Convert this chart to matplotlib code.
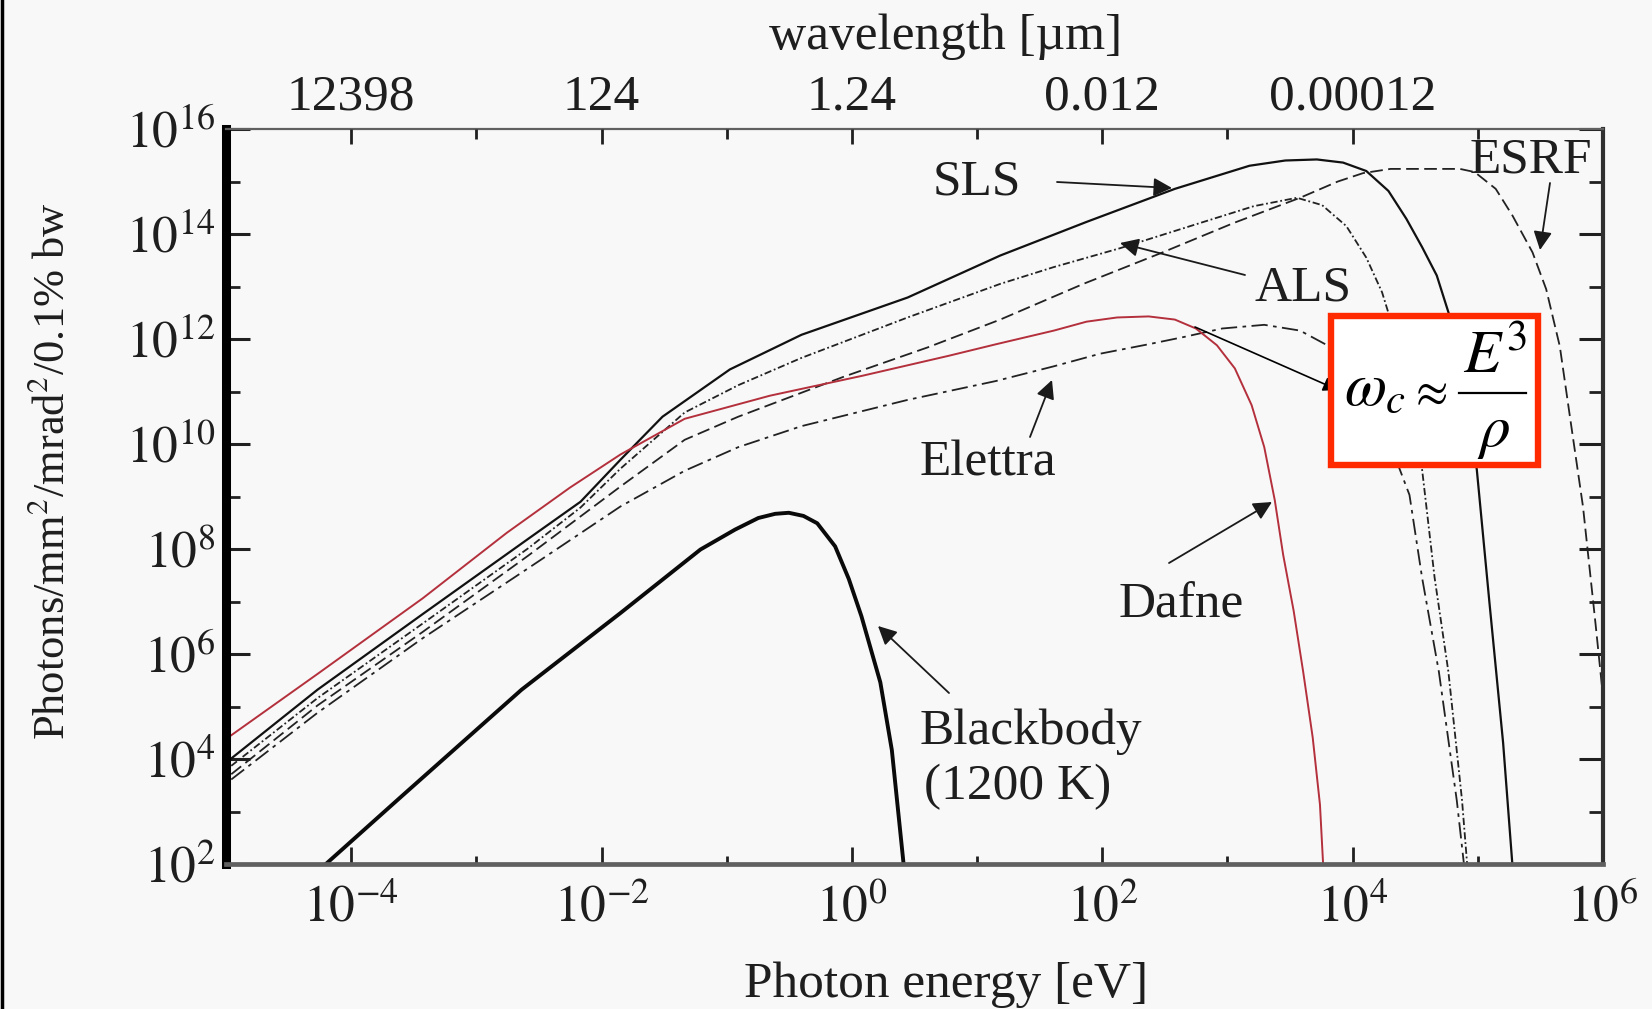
"""Synchrotron brightness vs photon energy for several light sources."""
import numpy as np
import matplotlib
matplotlib.use('Agg')
import matplotlib.pyplot as plt
from matplotlib.patches import Rectangle
from matplotlib.lines import Line2D
from matplotlib.ticker import FixedLocator, NullFormatter

plt.rcParams['font.family'] = ['Liberation Serif', 'DejaVu Serif']
plt.rcParams['mathtext.fontset'] = 'stix'

# log10(photon energy [eV]) and log10(brightness)
sls_logE = [-4.958, -4.269, -3.429, -2.588, -2.168, -1.849, -1.513, -0.975,
            -0.403, 0.445, 1.185, 1.874, 2.580, 3.176, 3.462, 3.714, 3.924,
            4.109, 4.286, 4.429, 4.555, 4.672, 4.773, 4.891, 4.992, 5.092,
            5.202, 5.277]
sls_logF = [4.01, 5.32, 6.76, 8.19, 8.90, 9.70, 10.52, 11.42, 12.08, 12.79,
            13.59, 14.23, 14.86, 15.30, 15.40, 15.42, 15.36, 15.20, 14.82,
            14.29, 13.75, 13.21, 12.45, 11.04, 9.51, 7.00, 4.31, 1.96]

als_logE = [-4.958, -4.269, -3.429, -2.588, -2.168, -1.849, -1.336, -0.908,
            -0.403, 0.445, 1.185, 1.613, 2.143, 2.782, 3.210, 3.555, 3.756,
            3.950, 4.109, 4.235, 4.345, 4.454, 4.555, 4.655, 4.765, 4.874,
            4.916]
als_logF = [3.87, 5.16, 6.58, 8.01, 8.79, 9.53, 10.60, 11.12, 11.64, 12.41,
            13.05, 13.37, 13.73, 14.21, 14.53, 14.69, 14.55, 14.15, 13.55,
            12.89, 12.04, 10.84, 9.51, 7.45, 5.66, 3.21, 1.96]

esrf_logE = [-4.958, -4.269, -3.429, -2.588, -1.849, -1.336, -0.908, -0.067,
             0.605, 1.185, 1.849, 2.462, 3.050, 3.580, 3.882, 4.084, 4.303,
             4.857, 4.975, 5.143, 5.277, 5.437, 5.546, 5.655, 5.731, 5.840,
             5.941, 6.025]
esrf_logF = [3.71, 5.02, 6.42, 7.87, 9.19, 10.08, 10.52, 11.28, 11.84, 12.37,
             13.05, 13.63, 14.21, 14.69, 15.00, 15.16, 15.24, 15.24, 15.18,
             14.86, 14.35, 13.65, 12.95, 11.86, 10.60, 8.81, 6.56, 4.61]

elettra_logE = [-4.958, -4.269, -3.429, -2.588, -1.849, -1.336, -0.908,
                -0.403, 0.445, 1.151, 1.613, 1.983, 2.370, 2.655, 2.958,
                3.294, 3.580, 3.782, 4.050, 4.261, 4.454, 4.555, 4.689, 4.832,
                4.891]
elettra_logF = [3.61, 4.88, 6.30, 7.63, 8.81, 9.49, 9.94, 10.34, 10.84, 11.20,
                11.48, 11.72, 11.90, 12.04, 12.20, 12.27, 12.16, 11.90, 11.14,
                10.24, 9.03, 7.45, 5.66, 3.21, 1.96]

dafne_logE = [-4.983, -4.269, -3.429, -2.756, -2.252, -1.849, -1.336, -0.655,
              0.084, 0.773, 1.151, 1.613, 1.874, 2.118, 2.370, 2.580, 2.748,
              2.916, 3.059, 3.193, 3.294, 3.378, 3.445, 3.529, 3.605, 3.681,
              3.739, 3.765]
dafne_logF = [4.41, 5.62, 7.06, 8.31, 9.17, 9.80, 10.48, 10.92, 11.30, 11.68,
              11.90, 12.16, 12.33, 12.41, 12.43, 12.37, 12.20, 11.88, 11.44,
              10.74, 9.94, 8.93, 7.89, 6.82, 5.66, 4.41, 3.13, 1.96]

bb_logE = [-4.202, -3.597, -2.639, -1.849, -1.210, -0.933, -0.748, -0.613,
           -0.504, -0.387, -0.277, -0.134, -0.025, 0.076, 0.227, 0.319, 0.412]
bb_logF = [2.00, 3.29, 5.32, 6.78, 7.99, 8.37, 8.59, 8.67, 8.69, 8.63, 8.49,
           8.05, 7.43, 6.72, 5.46, 4.17, 2.02]

x_major = [1e-4, 1e-2, 1e0, 1e2, 1e4, 1e6]
x_minor = [1e-3, 1e-1, 1e1, 1e3, 1e5]
x_labels = ['$10^{-4}$', '$10^{-2}$', '$10^{0}$', '$10^{2}$', '$10^{4}$',
            '$10^{6}$']
y_major = [1e2, 1e4, 1e6, 1e8, 1e10, 1e12, 1e14, 1e16]
y_minor = [1e3, 1e5, 1e7, 1e9, 1e11, 1e13, 1e15]
y_labels = ['$10^{2}$', '$10^{4}$', '$10^{6}$', '$10^{8}$', '$10^{10}$',
            '$10^{12}$', '$10^{14}$', '$10^{16}$']
wl_ticks = [1e-4, 1e-2, 1e0, 1e2, 1e4]
wl_minor = [1e-3, 1e-1, 1e1, 1e3, 1e5]
wl_labels = ['12398', '124', '1.24', '0.012', '0.00012']

W, H = 1652, 1009
BG = '#f8f8f8'
TXT = '#1e1e1e'
FS = 37


def fp(x, y):
    """top-left pixel coords -> figure pixels"""
    return (x, H - y)


def ff(x, y):
    """top-left pixel coords -> figure fraction"""
    return (x / W, 1 - y / H)


fig = plt.figure(figsize=(W / 100, H / 100), dpi=100, facecolor=BG)
ax = fig.add_axes([226 / W, 1 - 864 / H, (1603 - 226) / W, (864 - 129) / H])
ax.set_facecolor(BG)
ax.set_xscale('log')
ax.set_yscale('log')
ax.set_xlim(1e-5, 1e6)
ax.set_ylim(1e2, 1e16)


def curve(le, lf, **kw):
    ax.plot(10 ** np.asarray(le), 10 ** np.asarray(lf),
            solid_joinstyle='round', **kw)


curve(elettra_logE, elettra_logF, color='#222222', lw=1.3,
      ls=(0, (9, 3, 2, 3)))
curve(esrf_logE, esrf_logF, color='#222222', lw=1.3, ls=(0, (7, 3)))
curve(als_logE, als_logF, color='#222222', lw=1.3, ls=(0, (4, 1.5, 1, 1.5)))
curve(sls_logE, sls_logF, color='#111111', lw=1.6)
curve(dafne_logE, dafne_logF, color='#b3303c', lw=1.4)
curve(bb_logE, bb_logF, color='#0a0a0a', lw=2.8)

# spines
ax.spines['left'].set_linewidth(6.5)
ax.spines['left'].set_color('black')
ax.spines['bottom'].set_linewidth(3.4)
ax.spines['bottom'].set_color('#606060')
ax.spines['right'].set_linewidth(3.0)
ax.spines['right'].set_color('#303030')
ax.spines['top'].set_linewidth(1.6)
ax.spines['top'].set_color('#606060')

ax.xaxis.set_major_locator(FixedLocator(x_major))
ax.xaxis.set_minor_locator(FixedLocator(x_minor))
ax.set_xticklabels(x_labels)
ax.xaxis.set_minor_formatter(NullFormatter())
ax.yaxis.set_major_locator(FixedLocator(y_major))
ax.yaxis.set_minor_locator(FixedLocator(y_minor))
ax.set_yticklabels(y_labels)
ax.yaxis.set_minor_formatter(NullFormatter())
ax.tick_params(axis='x', which='major', direction='in', length=12, width=2,
               color='#202020', labelsize=FS, labelcolor=TXT, pad=15,
               top=False)
ax.tick_params(axis='x', which='minor', direction='in', length=6, width=2,
               color='#202020', top=False)
ax.tick_params(axis='y', which='major', direction='in', length=17, width=2.2,
               color='#202020', labelsize=FS, labelcolor=TXT, pad=8,
               right=True)
ax.tick_params(axis='y', which='minor', direction='in', length=10, width=2,
               color='#202020', right=True)

# wavelength axis on top
top = ax.twiny()
top.set_xscale('log')
top.set_xlim(ax.get_xlim())
top.xaxis.set_major_locator(FixedLocator(wl_ticks))
top.xaxis.set_minor_locator(FixedLocator(wl_minor))
top.set_xticklabels(wl_labels)
top.xaxis.set_minor_formatter(NullFormatter())
top.tick_params(axis='x', which='major', direction='in', length=11, width=2,
                color='#202020', labelsize=FS, labelcolor=TXT, pad=6)
top.tick_params(axis='x', which='minor', direction='in', length=7, width=2,
                color='#202020')
for s in top.spines.values():
    s.set_visible(False)

fig.text(*ff(946, 37), 'wavelength [\u00b5m]', fontsize=FS,
         color=TXT, ha='center', va='center')
fig.text(*ff(946, 985), 'Photon energy [eV]', fontsize=FS,
         color=TXT, ha='center', va='center')
fig.text(*ff(53, 471), 'Photons/mm$^2$/mrad$^2$/0.1% bw',
         fontsize=FS - 5, color=TXT, ha='center', va='center', rotation=90)

# curve labels and pointer arrows
arw = dict(arrowstyle='-|>', mutation_scale=28, lw=1.3, color='#1a1a1a',
           shrinkA=0, shrinkB=0)
labels = [
    ('SLS', (977, 182), (1057, 182), (1172, 188)),
    ('ALS', (1303, 288), (1245, 275), (1120, 243)),
    ('ESRF', (1531, 160), (1550, 183), (1540, 250)),
    ('Elettra', (988, 463), (1030, 437), (1052, 380)),
    ('Dafne', (1181, 605), (1169, 563), (1272, 502)),
    ('Blackbody', (1031, 732), (949, 693), (878, 626)),
]
for txt, tpos, tail, head in labels:
    ax.annotate(txt, xy=fp(*tpos), xycoords='figure pixels', fontsize=FS,
                color=TXT, ha='center', va='center')
    ax.annotate('', xy=fp(*head), xycoords='figure pixels',
                xytext=fp(*tail), textcoords='figure pixels',
                arrowprops=arw)
ax.annotate('(1200 K)', xy=fp(1018, 787), xycoords='figure pixels',
            fontsize=FS, color=TXT, ha='center', va='center')

# critical frequency box
ax.annotate('', xy=fp(1338, 390), xycoords='figure pixels',
            xytext=fp(1195, 327), textcoords='figure pixels',
            arrowprops=dict(arrowstyle='-|>', mutation_scale=22, lw=1.2,
                            color='black', shrinkA=0, shrinkB=0))
box = Rectangle(fp(1331, 465), 207, 149, transform=None, facecolor='white',
                edgecolor='#ff2a00', lw=4.6, zorder=5)
fig.add_artist(box)
FF = 44
fig.text(*ff(1344, 405), r'$\omega_c$', fontsize=FF, color='black',
         ha='left', va='baseline', zorder=6)
fig.text(*ff(1428, 394), r'$\approx$', fontsize=34, color='black',
         ha='center', va='center', zorder=6)
fig.text(*ff(1463, 373), r'$E^3$', fontsize=FF, color='black',
         ha='left', va='baseline', zorder=6)
fig.text(*ff(1494, 446), r'$\rho$', fontsize=FF, color='black',
         ha='center', va='baseline', zorder=6)
fig.add_artist(Line2D([1459 / W, 1526 / W], [1 - 393 / H, 1 - 393 / H],
                      transform=fig.transFigure, lw=1.6, color='black',
                      zorder=6))

# dark strip along the left edge
fig.add_artist(Line2D([0.0012, 0.0012], [0, 1], lw=2.5, color='black',
                      transform=fig.transFigure))

fig.savefig('out.png', dpi=100, facecolor=BG)
